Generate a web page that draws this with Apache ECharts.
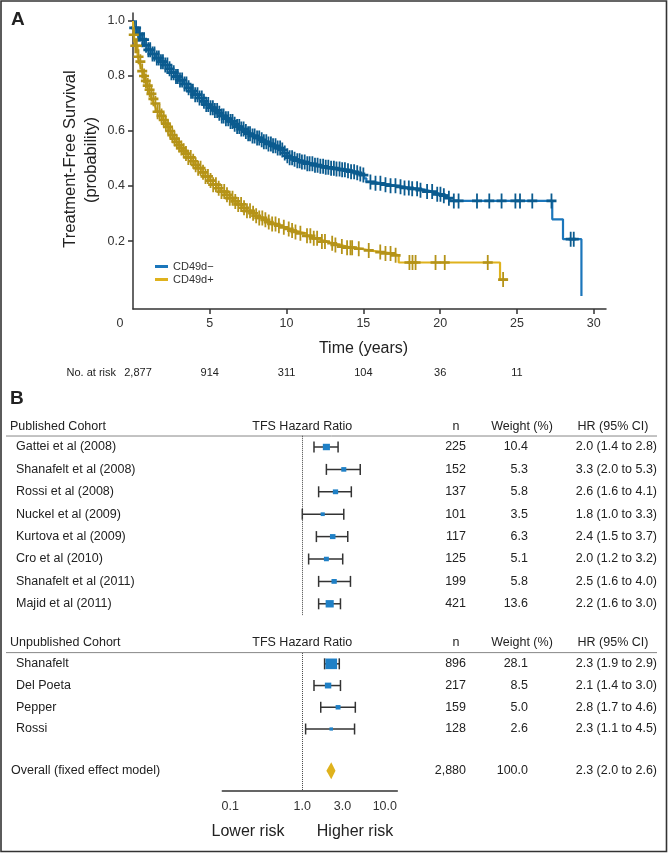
<!DOCTYPE html>
<html><head><meta charset="utf-8">
<script src="https://cdn.jsdelivr.net/npm/echarts@6/dist/echarts.min.js"></script>
<style>html,body{margin:0;padding:0;background:#fff}#c{width:668px;height:853px}</style>
</head><body><div id="c"></div>
<script>
// ---------------- DATA ----------------
const kmXTicks = [0, 5, 10, 15, 20, 25, 30];
const kmYTicks = [0.2, 0.4, 0.6, 0.8, 1.0];
const riskTimes = [0, 5, 10, 15, 20, 25];
const riskCounts = [2877, 914, 311, 104, 36, 11];
const negName = 'CD49d\u2212';
const posName = 'CD49d+';
// Kaplan-Meier steps [time (years), survival]
const negCurve = [[0,1],[0.05,0.975],[0.25,0.952],[0.5,0.932],[0.75,0.912],[1.0,0.895],[1.25,0.88],[1.5,0.865],[1.75,0.852],[2.0,0.84],[2.25,0.826],[2.5,0.812],[2.75,0.798],[3.0,0.785],[3.25,0.771],[3.5,0.757],[3.75,0.745],[4.0,0.732],[4.25,0.72],[4.5,0.708],[4.75,0.696],[5.0,0.685],[5.25,0.675],[5.5,0.665],[5.75,0.655],[6.0,0.645],[6.25,0.635],[6.5,0.625],[6.75,0.616],[7.0,0.607],[7.25,0.598],[7.5,0.59],[7.75,0.582],[8.0,0.575],[8.25,0.568],[8.5,0.561],[8.75,0.553],[9.0,0.546],[9.3,0.538],[9.6,0.531],[9.8,0.52],[10.0,0.51],[10.2,0.503],[10.4,0.497],[10.7,0.492],[11.0,0.487],[11.35,0.481],[11.7,0.476],[12.05,0.472],[12.4,0.468],[12.8,0.465],[13.2,0.462],[13.55,0.459],[13.9,0.456],[14.2,0.452],[14.5,0.448],[14.7,0.444],[14.9,0.44],[15.05,0.428],[15.2,0.415],[15.7,0.41],[16.2,0.405],[16.7,0.401],[17.2,0.397],[17.6,0.393],[18.0,0.39],[18.7,0.385],[19.1,0.38],[19.5,0.375],[19.8,0.37],[20.1,0.365],[20.5,0.356],[20.65,0.346],[27.3,0.279],[28.0,0.207],[29.2,0]];
const posCurve = [[0,1],[0.05,0.95],[0.15,0.91],[0.3,0.87],[0.4,0.852],[0.5,0.835],[0.6,0.818],[0.7,0.80],[0.8,0.782],[0.9,0.765],[1.0,0.75],[1.1,0.735],[1.22,0.717],[1.35,0.70],[1.47,0.685],[1.6,0.67],[1.75,0.655],[1.9,0.64],[2.05,0.627],[2.2,0.615],[2.35,0.6],[2.5,0.585],[2.65,0.572],[2.8,0.56],[2.95,0.549],[3.1,0.538],[3.25,0.528],[3.4,0.518],[3.6,0.504],[3.8,0.49],[4.0,0.477],[4.2,0.465],[4.45,0.45],[4.7,0.435],[4.95,0.42],[5.2,0.405],[5.45,0.392],[5.7,0.38],[6.0,0.368],[6.3,0.356],[6.55,0.344],[6.8,0.333],[7.1,0.321],[7.4,0.31],[7.65,0.301],[7.9,0.292],[8.2,0.284],[8.5,0.277],[8.75,0.269],[9.0,0.262],[9.3,0.256],[9.6,0.25],[9.9,0.244],[10.2,0.238],[10.55,0.233],[10.9,0.228],[11.3,0.219],[11.7,0.21],[12.0,0.204],[12.3,0.198],[12.65,0.192],[13.0,0.186],[13.5,0.18],[13.9,0.176],[14.3,0.172],[14.85,0.166],[15.4,0.16],[16.2,0.155],[16.9,0.148],[17.3,0.122],[23.9,0.06],[24.4,0.06]];
// censoring times (years)
const negCensor = [0.08,0.2,0.33,0.45,0.6,0.72,0.85,1.0,1.12,1.27,1.4,1.55,1.68,1.82,1.95,2.1,2.24,2.38,2.5,2.65,2.8,2.92,3.06,3.2,3.35,3.48,3.62,3.78,3.9,4.05,4.2,4.33,4.48,4.62,4.77,4.9,5.05,5.2,5.33,5.48,5.62,5.78,5.9,6.05,6.2,6.35,6.48,6.62,6.78,6.92,7.05,7.2,7.35,7.5,7.62,7.78,7.92,8.08,8.22,8.38,8.52,8.68,8.82,8.98,9.12,9.28,9.42,9.58,9.72,9.88,10.05,10.2,10.36,10.52,10.7,10.85,11.0,11.18,11.35,11.5,11.68,11.85,12.02,12.2,12.38,12.55,12.72,12.9,13.08,13.25,13.45,13.62,13.8,14.0,14.2,14.4,14.6,14.8,15.0,15.46,15.79,16.11,16.44,16.77,17.09,17.42,17.68,17.96,18.18,18.5,18.72,19.15,19.48,19.81,20.02,20.24,20.57,20.89,21.2,22.4,23.2,24.0,24.9,25.2,26.0,27.25,28.5,28.7];
const posCensor = [0.05,0.15,0.25,0.36,0.48,0.6,0.72,0.84,0.96,1.08,1.2,1.33,1.46,1.6,1.73,1.86,2.0,2.14,2.28,2.42,2.56,2.7,2.85,3.0,3.15,3.3,3.45,3.6,3.76,3.92,4.08,4.24,4.4,4.56,4.72,4.88,5.05,5.22,5.4,5.58,5.76,5.94,6.12,6.3,6.48,6.66,6.85,7.04,7.23,7.42,7.62,7.82,8.02,8.22,8.42,8.62,8.84,9.06,9.28,9.5,9.82,10.14,10.36,10.58,10.9,11.33,11.55,11.77,11.99,12.3,12.5,12.97,13.18,13.6,13.94,14.16,14.27,14.7,15.35,16.1,16.44,16.77,17.1,18.0,18.2,18.4,19.7,20.3,23.1,24.1];

// Forest plot
const pubNames = ['Gattei et al (2008)','Shanafelt et al (2008)','Rossi et al (2008)','Nuckel et al (2009)','Kurtova et al (2009)','Cro et al (2010)','Shanafelt et al (2011)','Majid et al (2011)'];
const pubN = [225,152,137,101,117,125,199,421];
const pubWeight = [10.4,5.3,5.8,3.5,6.3,5.1,5.8,13.6];
const pubHR = [2.0,3.3,2.6,1.8,2.4,2.0,2.5,2.2];
const pubLow = [1.4,2.0,1.6,1.0,1.5,1.2,1.6,1.6];
const pubHigh = [2.8,5.3,4.1,3.3,3.7,3.2,4.0,3.0];
const unpubNames = ['Shanafelt','Del Poeta','Pepper','Rossi'];
const unpubN = [896,217,159,128];
const unpubWeight = [28.1,8.5,5.0,2.6];
const unpubHR = [2.3,2.1,2.8,2.3];
const unpubLow = [1.9,1.4,1.7,1.1];
const unpubHigh = [2.9,3.0,4.6,4.5];
const overallLabel = 'Overall (fixed effect model)';
const overallN = 2880, overallWeight = 100.0, overallHR = 2.3, overallLow = 2.0, overallHigh = 2.6;
const forestTicks = [0.1, 1, 3, 10];
const headerTexts = ['TFS Hazard Ratio', 'n', 'Weight (%)', 'HR (95% CI)'];

// ---------------- STYLE / LAYOUT ----------------
const FONT = '"Liberation Sans", Arial, sans-serif';
const TXT = '#222';
const BLUE = '#1b76bb', BLUE_D = '#0b5b8f';
const GOLD = '#dfb21d', GOLD_D = '#b59318';
const SQ = '#1f80c6';

function survAt(curve, t) {
  let s = curve[0][1];
  for (const p of curve) { if (p[0] <= t) s = p[1]; else break; }
  return s;
}
const pubRow = i => i;
const unpubRow = i => 9.68 + 0.97 * i;
const overallRow = 14.45;

const ciData = [];
const sqData = [];
pubNames.forEach((n, i) => { ciData.push([pubLow[i], pubHigh[i], pubRow(i)]); sqData.push([pubHR[i], pubRow(i), pubWeight[i]]); });
unpubNames.forEach((n, i) => { ciData.push([unpubLow[i], unpubHigh[i], unpubRow(i)]); sqData.push([unpubHR[i], unpubRow(i), unpubWeight[i]]); });

const plusSymbol = 'path://M5,0V15M0,7.5H10';

const chart = echarts.init(document.getElementById('c'), null, {renderer: 'canvas'});
chart.setOption({
  animation: false,
  backgroundColor: '#fff',
  textStyle: {fontFamily: FONT},
  grid: [
    {left: 133, top: 13, width: 473, height: 296},
    {left: 222.3, top: 435.8, width: 175, height: 354.8}
  ],
  legend: {
    data: [negName, posName], left: 150, top: 256, orient: 'vertical',
    icon: 'rect', itemWidth: 13, itemHeight: 3, itemGap: 2, selectedMode: false,
    textStyle: {fontSize: 11, color: '#333', fontFamily: FONT}
  },
  xAxis: [
    {type: 'value', gridIndex: 0, min: 0, max: 30.8,
     axisLine: {onZero: false, lineStyle: {color: '#333', width: 1.5}},
     axisTick: {customValues: kmXTicks.slice(1), length: 5, lineStyle: {color: '#333', width: 1.5}},
     axisLabel: {customValues: kmXTicks, color: '#333', fontSize: 12.5, margin: 8,
       formatter: v => v === 0 ? '{z|0}' : String(v),
       rich: {z: {padding: [0, 26, 0, 0], fontSize: 12.5, color: '#333'}}},
     splitLine: {show: false}},
    {type: 'log', logBase: 10, gridIndex: 1, min: 0.1, max: 15.4,
     axisLine: {onZero: false, lineStyle: {color: '#333', width: 1.5}},
     axisTick: {show: false},
     axisLabel: {customValues: forestTicks, color: '#333', fontSize: 12.5, margin: 9,
       formatter: v => {
         const s = Number(v).toFixed(1);
         if (Math.abs(v - 0.1) < 1e-6) return '{a|' + s + '}';
         if (Math.abs(v - 3) < 1e-6) return '{b|' + s + '}';
         if (Math.abs(v - 10) < 1e-6) return '{c|' + s + '}';
         return s;
       },
       rich: {a: {padding: [0, 0, 0, 16], fontSize: 12.5, color: '#333'},
              b: {padding: [0, 0, 0, 4], fontSize: 12.5, color: '#333'},
              c: {padding: [0, 0, 0, 5], fontSize: 12.5, color: '#333'}}},
     splitLine: {show: false}, minorTick: {show: false}}
  ],
  yAxis: [
    {type: 'value', gridIndex: 0, min: -0.047, max: 1.029,
     axisLine: {show: true, onZero: false, lineStyle: {color: '#333', width: 1.5}},
     axisTick: {show: true, customValues: kmYTicks, length: 5, lineStyle: {color: '#333', width: 1.5}},
     axisLabel: {customValues: kmYTicks, color: '#333', fontSize: 12.5, margin: 8, formatter: v => Number(v).toFixed(1)},
     splitLine: {show: false}},
    {type: 'value', gridIndex: 1, min: -0.5, max: 15.34, inverse: true, show: false}
  ],
  series: [
    {type: 'line', name: negName, xAxisIndex: 0, yAxisIndex: 0, data: negCurve, step: 'end', symbol: 'none',
     lineStyle: {color: BLUE, width: 2.2}, itemStyle: {color: BLUE}, z: 2, silent: true},
    {type: 'scatter', name: 'neg-censor', xAxisIndex: 0, yAxisIndex: 0,
     data: negCensor.map(t => [t, survAt(negCurve, t)]), symbol: plusSymbol, symbolSize: [10, 15],
     itemStyle: {color: 'rgba(0,0,0,0)', borderColor: BLUE_D, borderWidth: 2.2, opacity: 1}, z: 3, silent: true},
    {type: 'line', name: posName, xAxisIndex: 0, yAxisIndex: 0, data: posCurve, step: 'end', symbol: 'none',
     lineStyle: {color: GOLD, width: 2.2}, itemStyle: {color: GOLD}, z: 4, silent: true},
    {type: 'scatter', name: 'pos-censor', xAxisIndex: 0, yAxisIndex: 0,
     data: posCensor.map(t => [t, survAt(posCurve, t)]), symbol: plusSymbol, symbolSize: [10, 15],
     itemStyle: {color: 'rgba(0,0,0,0)', borderColor: GOLD_D, borderWidth: 2.2, opacity: 1}, z: 5, silent: true},
    // forest: CI whiskers
    {type: 'custom', name: 'ci', xAxisIndex: 1, yAxisIndex: 1, data: ciData, encode: {x: [0, 1], y: 2}, silent: true, z: 3,
     renderItem: (params, api) => {
       const a = api.coord([api.value(0), api.value(2)]);
       const b = api.coord([api.value(1), api.value(2)]);
       const cap = 5.5, st = {stroke: '#333', lineWidth: 1.5};
       return {type: 'group', children: [
         {type: 'line', shape: {x1: a[0], y1: a[1], x2: b[0], y2: b[1]}, style: st},
         {type: 'line', shape: {x1: a[0], y1: a[1] - cap, x2: a[0], y2: a[1] + cap}, style: st},
         {type: 'line', shape: {x1: b[0], y1: b[1] - cap, x2: b[0], y2: b[1] + cap}, style: st}
       ]};
     },
     markLine: {silent: true, symbol: ['none', 'none'], label: {show: false},
       lineStyle: {type: 'dotted', color: '#444', width: 1},
       data: [[{coord: [1, -0.5]}, {coord: [1, 7.54]}], [{coord: [1, 9.2]}, {coord: [1, 15.34]}]]}},
    // forest: squares
    {type: 'scatter', name: 'hr', xAxisIndex: 1, yAxisIndex: 1, data: sqData, symbol: 'rect',
     symbolSize: v => [2.2 * Math.sqrt(v[2]), 2.0 * Math.sqrt(v[2])],
     itemStyle: {color: SQ, opacity: 1}, z: 5, silent: true},
    // forest: overall diamond
    {type: 'custom', name: 'overall', xAxisIndex: 1, yAxisIndex: 1,
     data: [[overallLow, overallHigh, overallHR, overallRow]], encode: {x: [0, 1, 2], y: 3}, silent: true, z: 5,
     renderItem: (params, api) => {
       const l = api.coord([api.value(0), api.value(3)]);
       const h = api.coord([api.value(1), api.value(3)]);
       const c = api.coord([api.value(2), api.value(3)]);
       const hh = 8.5;
       return {type: 'polygon', shape: {points: [[l[0], l[1]], [c[0], c[1] - hh], [h[0], h[1]], [c[0], c[1] + hh]]},
               style: {fill: GOLD}};
     }}
  ]
});

// ---------------- TEXT / DECORATION ----------------
const kmPt = (t, s) => chart.convertToPixel({xAxisIndex: 0, yAxisIndex: 0}, [t, s]);
const fPt = (hr, row) => chart.convertToPixel({xAxisIndex: 1, yAxisIndex: 1}, [hr, row]);
const g = [];
function txt(text, x, y, size, align, extra) {
  g.push(Object.assign({type: 'text', x: x, y: y, silent: true,
    style: Object.assign({text: text, fill: TXT, font: size + 'px ' + FONT, textAlign: align || 'left', textVerticalAlign: 'middle'}, (extra && extra.style) || {})},
    extra && extra.rotation !== undefined ? {rotation: extra.rotation} : {}));
}
function hline(x1, x2, y, color, w) {
  g.push({type: 'line', silent: true, shape: {x1: x1, y1: y, x2: x2, y2: y}, style: {stroke: color, lineWidth: w}});
}
// frame
g.push({type: 'rect', silent: true, shape: {x: 1, y: 1, width: 665.5, height: 850.5}, style: {fill: 'none', stroke: '#333', lineWidth: 1.6}});
// panel A
txt('A', 11, 20, 'bold 19', 'left');
txt('Treatment-Free Survival', 70, 159, 16.5, 'center', {rotation: Math.PI / 2});
txt('(probability)', 91, 160, 16.5, 'center', {rotation: Math.PI / 2});
txt('Time (years)', 363.5, 349, 16, 'center');
const riskY = 373;
txt('No. at risk', 116, riskY, 11, 'right');
riskTimes.forEach((t, i) => {
  const x = kmPt(t, 0)[0] + (t === 0 ? 5 : 0);
  txt(riskCounts[i].toLocaleString('en-US'), x, riskY, 11, 'center');
});
// panel B
txt('B', 10, 399, 'bold 19', 'left');
const xN = 466, xW = 528, xHR = 657;
const xOne = fPt(1, 0)[0];
function header(label, row, lineRow) {
  const y = fPt(1, row)[1];
  txt(label, 10, y, 12.5, 'left');
  txt(headerTexts[0], xOne, y, 12.5, 'center');
  txt(headerTexts[1], 456, y, 12.5, 'center');
  txt(headerTexts[2], 522, y, 12.5, 'center');
  txt(headerTexts[3], 613, y, 12.5, 'center');
  hline(6, 657, fPt(1, lineRow)[1], '#888', 1);
}
function row(name, n, w, hr, lo, hi, r, nameX) {
  const y = fPt(1, r)[1];
  txt(name, nameX, y, 12.5, 'left');
  txt(n.toLocaleString('en-US'), xN, y, 12.5, 'right');
  txt(w.toFixed(1), xW, y, 12.5, 'right');
  txt(hr.toFixed(1) + ' (' + lo.toFixed(1) + ' to ' + hi.toFixed(1) + ')', xHR, y, 12.5, 'right');
}
header('Published Cohort', -0.9, -0.49);
pubNames.forEach((nm, i) => row(nm, pubN[i], pubWeight[i], pubHR[i], pubLow[i], pubHigh[i], pubRow(i), 16));
header('Unpublished Cohort', 8.73, 9.18);
unpubNames.forEach((nm, i) => row(nm, unpubN[i], unpubWeight[i], unpubHR[i], unpubLow[i], unpubHigh[i], unpubRow(i), 16));
row(overallLabel, overallN, overallWeight, overallHR, overallLow, overallHigh, overallRow, 11);
txt('Lower risk', 248, 831.5, 16, 'center');
txt('Higher risk', 355, 831.5, 16, 'center');

chart.setOption({graphic: {elements: g}});
</script>
</body></html>
